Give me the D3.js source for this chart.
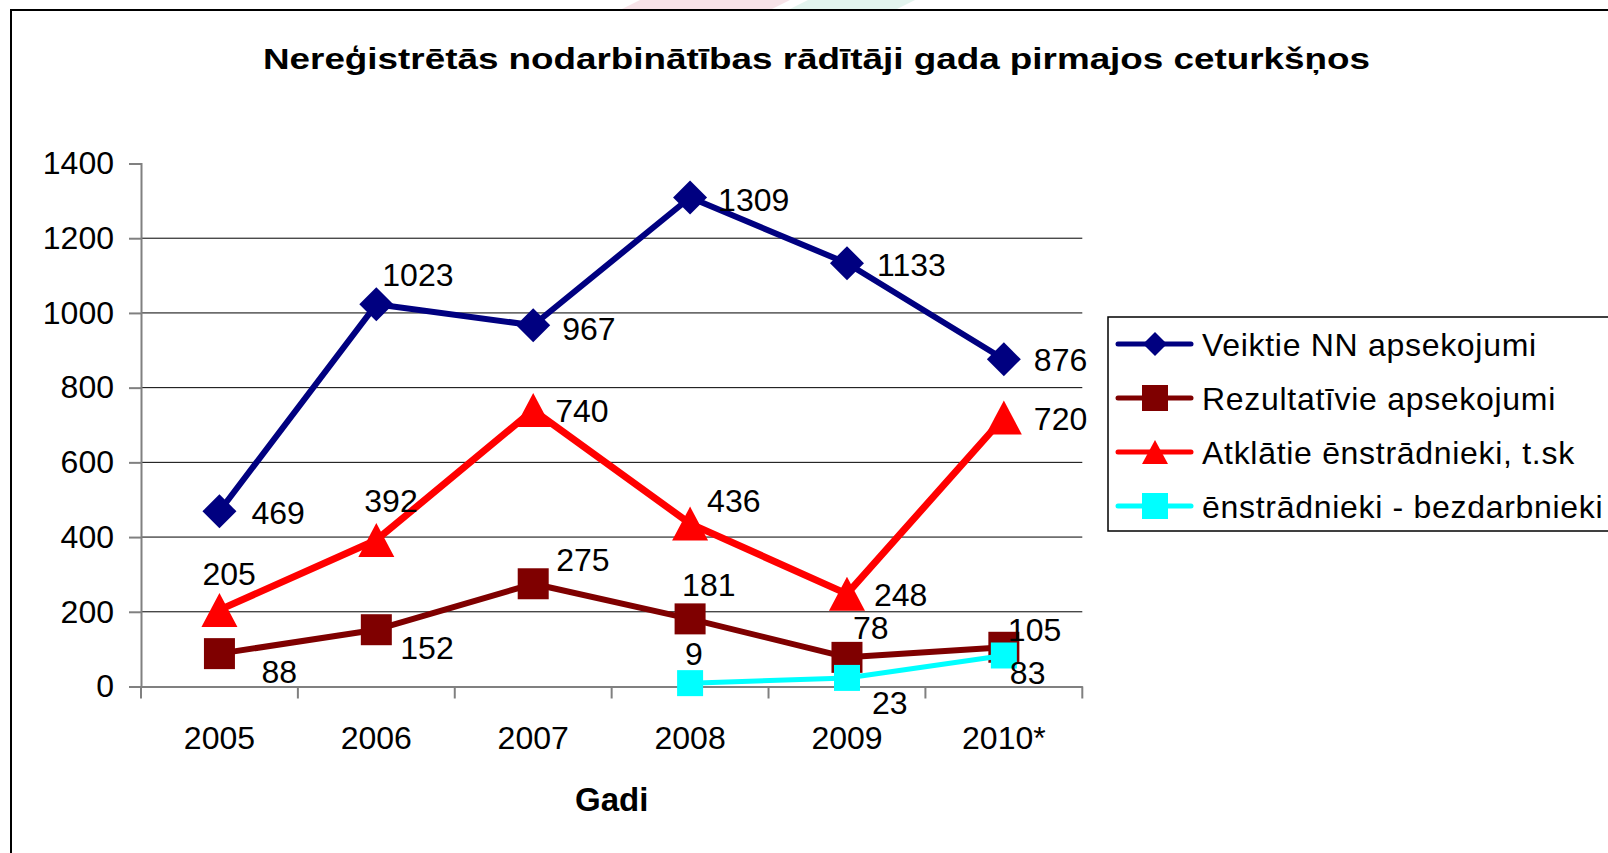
<!DOCTYPE html>
<html>
<head>
<meta charset="utf-8">
<script src="https://cdn.jsdelivr.net/npm/d3@7"></script>
<style>
  body { margin: 0; background: #fff; }
  text { font-family: Arial, "Liberation Sans", sans-serif; fill: #000; }
</style>
</head>
<body>
<script>
var years = ['2005', '2006', '2007', '2008', '2009', '2010*'];
var veiktie = [469, 1023, 967, 1309, 1133, 876];
var rezultativie = [88, 152, 275, 181, 78, 105];
var atklatie = [205, 392, 740, 436, 248, 720];
var bezdarbnieki = [null, null, null, 9, 23, 83];
var seriesNames = ['Veiktie NN apsekojumi', 'Rezultatīvie apsekojumi', 'Atklātie ēnstrādnieki, t.sk', 'ēnstrādnieki - bezdarbnieki'];
var yTicks = [0, 200, 400, 600, 800, 1000, 1200, 1400];
var title = 'Nereģistrētās nodarbinātības rādītāji gada pirmajos ceturkšņos';
var xTitle = 'Gadi';

// where each data label sits relative to its point [dx to left edge, dy to middle]
var veiktieLbl = [[32, 1], [6, -30], [29, 3], [28, 2], [30, 1], [30, 0]];
var rezultLbl = [[42, 18], [24, 18], [23, -24], [-8, -34], [6, -30], [4, -18]];
var atklLbl = [[-17, -36], [-12, -40], [22, 0], [17, -23], [27, 1], [30, 1]];
var bezdLbl = [null, null, null, [-5, -30], [25, 25], [6, 17]];

var W = 1608, H = 853;
var svg = d3.select('body').append('svg')
  .attr('width', W)
  .attr('height', H);

svg.append('rect').attr('width', W).attr('height', H).attr('fill', '#fff');

// faint slide decoration peeking above the frame
svg.append('polygon').attr('points', '622,9 640,0 790,0 772,9').attr('fill', '#f7e3e8');
svg.append('polygon').attr('points', '790,9 808,0 915,0 897,9').attr('fill', '#e3f4ee');

// chart frame (right and bottom run off the picture)
svg.append('rect')
  .attr('x', 11).attr('y', 10)
  .attr('width', 1640).attr('height', 900)
  .attr('fill', 'none')
  .attr('stroke', '#000')
  .attr('stroke-width', 2);

svg.append('text')
  .attr('x', 263).attr('y', 69)
  .attr('font-size', 30)
  .attr('font-weight', 'bold')
  .attr('textLength', 1107)
  .attr('lengthAdjust', 'spacingAndGlyphs')
  .text(title);

var x = d3.scaleBand().domain(years).range([141, 1082.3]);
var y = d3.scaleLinear().domain([0, 1400]).range([686.5, 163.5]);

// gridlines (none at the top value)
svg.append('g').selectAll('line')
  .data(yTicks.filter(function(d){ return d > 0 && d < 1400; }))
  .enter()
  .append('line')
  .attr('x1', 141).attr('x2', 1082.3)
  .attr('y1', function(d){ return y(d); })
  .attr('y2', function(d){ return y(d); })
  .attr('stroke', '#000')
  .attr('stroke-width', 1);

// y axis
var yAxis = svg.append('g')
  .attr('transform', 'translate(141,0)')
  .call(d3.axisLeft(y).tickValues(yTicks).tickFormat(d3.format('d')).tickSize(12).tickPadding(15));
yAxis.select('.domain').attr('stroke', '#808080').attr('stroke-width', 2);
yAxis.selectAll('.tick line').attr('stroke', '#808080').attr('stroke-width', 2);
yAxis.selectAll('.tick text')
  .attr('font-size', 32)
  .attr('font-family', 'Arial, "Liberation Sans", sans-serif')
  .attr('fill', '#000');

// x axis: labels at band centres, ticks at band edges
var xAxis = svg.append('g')
  .attr('transform', 'translate(0,' + y(0) + ')')
  .call(d3.axisBottom(x).tickSize(0).tickPadding(40));
xAxis.select('.domain').attr('stroke', '#808080').attr('stroke-width', 2);
xAxis.selectAll('.tick text')
  .attr('font-size', 32)
  .attr('font-family', 'Arial, "Liberation Sans", sans-serif')
  .attr('fill', '#000');
var edges = years.map(function(d){ return x(d); }).concat([x.range()[1]]);
xAxis.selectAll('line.edge')
  .data(edges)
  .enter()
  .append('line')
  .attr('class', 'edge')
  .attr('x1', function(d){ return d; })
  .attr('x2', function(d){ return d; })
  .attr('y1', 0).attr('y2', 12)
  .attr('stroke', '#808080')
  .attr('stroke-width', 2);

svg.append('text')
  .attr('x', (141 + 1082.3) / 2).attr('y', 811)
  .attr('text-anchor', 'middle')
  .attr('font-size', 33)
  .attr('font-weight', 'bold')
  .text(xTitle);

function marker(type, s) {
  var h = s / 2;
  if (type === 'diamond') return 'M0,' + (-h) + 'L' + h + ',0L0,' + h + 'L' + (-h) + ',0Z';
  if (type === 'square') return 'M' + (-h) + ',' + (-h) + 'h' + s + 'v' + s + 'h' + (-s) + 'Z';
  // triangle
  return 'M0,' + (-h) + 'L' + (h + 1) + ',' + h + 'L' + (-h - 1) + ',' + h + 'Z';
}

var series = [
  { name: seriesNames[0], values: veiktie, color: '#000080', width: 6, type: 'diamond', size: 34, lsize: 24, labels: veiktieLbl },
  { name: seriesNames[1], values: rezultativie, color: '#7f0000', width: 6, type: 'square', size: 31, lsize: 26, labels: rezultLbl },
  { name: seriesNames[2], values: atklatie, color: '#ff0000', width: 7, type: 'triangle', size: 34, lsize: 24, labels: atklLbl },
  { name: seriesNames[3], values: bezdarbnieki, color: '#00ffff', width: 5, type: 'square', size: 26, lsize: 26, labels: bezdLbl }
];

var line = d3.line()
  .defined(function(d){ return d.v !== null; })
  .x(function(d){ return x(d.c) + x.bandwidth() / 2; })
  .y(function(d){ return y(d.v); });

series.forEach(function(s){
  var pts = s.values.map(function(v, i){ return { c: years[i], v: v, l: s.labels[i] }; });
  svg.append('path')
    .datum(pts)
    .attr('d', line)
    .attr('fill', 'none')
    .attr('stroke', s.color)
    .attr('stroke-width', s.width)
    .attr('stroke-linejoin', 'round');
  svg.append('g').selectAll('path')
    .data(pts.filter(function(d){ return d.v !== null; }))
    .enter()
    .append('path')
    .attr('d', marker(s.type, s.size))
    .attr('transform', function(d){
      return 'translate(' + (x(d.c) + x.bandwidth() / 2) + ',' + y(d.v) + ')';
    })
    .attr('fill', s.color);
  s.pts = pts;
});

// data labels on top
series.forEach(function(s){
  svg.append('g').selectAll('text')
    .data(s.pts.filter(function(d){ return d.v !== null; }))
    .enter()
    .append('text')
    .attr('x', function(d){ return x(d.c) + x.bandwidth() / 2 + d.l[0]; })
    .attr('y', function(d){ return y(d.v) + d.l[1]; })
    .attr('dy', '0.36em')
    .attr('font-size', 32)
    .text(function(d){ return d.v; });
});

// legend
var legend = svg.append('g');
legend.append('rect')
  .attr('x', 1108).attr('y', 317)
  .attr('width', 520).attr('height', 214)
  .attr('fill', '#fff')
  .attr('stroke', '#000')
  .attr('stroke-width', 1.5);
var rowY = d3.scalePoint().domain(seriesNames).range([344, 506]);
var rows = legend.selectAll('g.row')
  .data(series)
  .enter()
  .append('g')
  .attr('class', 'row')
  .attr('transform', function(d){ return 'translate(0,' + rowY(d.name) + ')'; });
rows.append('line')
  .attr('x1', 1118).attr('x2', 1191)
  .attr('stroke', function(d){ return d.color; })
  .attr('stroke-width', 5)
  .attr('stroke-linecap', 'round');
rows.append('path')
  .attr('d', function(d){ return marker(d.type, d.lsize); })
  .attr('transform', 'translate(1155,0)')
  .attr('fill', function(d){ return d.color; });
rows.append('text')
  .attr('x', 1202)
  .attr('dy', '0.36em')
  .attr('font-size', 32)
  .attr('letter-spacing', 0.7)
  .text(function(d){ return d.name; });
</script>
</body>
</html>
